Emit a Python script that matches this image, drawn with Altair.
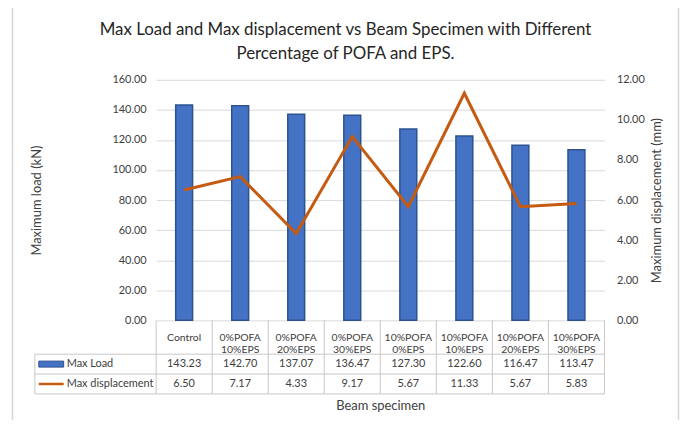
import altair as alt
import pandas as pd

categories = ["Control", "0%POFA 10%EPS", "0%POFA 20%EPS", "0%POFA 30%EPS",
              "10%POFA 0%EPS", "10%POFA 10%EPS", "10%POFA 20%EPS", "10%POFA 30%EPS"]
max_load = [143.23, 142.70, 137.07, 136.47, 127.30, 122.60, 116.47, 113.47]
max_disp = [6.50, 7.17, 4.33, 9.17, 5.67, 11.33, 5.67, 5.83]
series_names = ["Max Load", "Max displacement"]
load_ticks = [0, 20, 40, 60, 80, 100, 120, 140, 160]
disp_ticks = [0, 2, 4, 6, 8, 10, 12]

df = pd.DataFrame({"cat": categories, "load": max_load, "disp": max_disp})
one = pd.DataFrame({"k": [0]})

W, H = 451, 242
FONT = "Lato"
TXT = "#404040"
GRID = "#D9D9D9"
TBL = "#C8C8C8"
BAR = "#4472C4"
BAR_EDGE = "#2F528F"
LINE = "#C55A11"

x_axis = alt.Axis(
    title="Beam specimen", labelExpr="split(datum.label, ' ')", labelAngle=0,
    domain=False, ticks=False, tickSize=0, labelPadding=17, labelBaseline="middle",
    labelFontSize=10.5, labelLineHeight=12, labelOverlap=False, labelColor=TXT,
    labelFont=FONT, titleFont=FONT, titleFontSize=13, titleFontWeight="normal",
    titleColor=TXT, titleY=86, titleBaseline="middle",
)
x_scale = alt.Scale(paddingInner=0, paddingOuter=0)


def xe(**kw):
    return alt.X("cat:N", sort=categories, scale=x_scale, axis=x_axis, **kw)


bars = alt.Chart(df).mark_bar(size=17, color=BAR, stroke=BAR_EDGE, strokeWidth=1.5).encode(
    x=xe(),
    y=alt.Y("load:Q", scale=alt.Scale(domain=[0, 160]), axis=alt.Axis(
        values=load_ticks, format=".2f", grid=True, gridColor=GRID, domain=False,
        ticks=False, labelPadding=10, labelFontSize=11, labelFont=FONT, labelColor=TXT,
        title="Maximum load (kN)", titleX=-120, titleY=121, titleAngle=270,
        titleAlign="center", titleBaseline="middle", titleFont=FONT, titleFontSize=13,
        titleFontWeight="normal", titleColor=TXT)),
)

line = alt.Chart(df).mark_line(color=LINE, strokeWidth=3).encode(
    x=xe(),
    y=alt.Y("disp:Q", scale=alt.Scale(domain=[0, 12]), axis=alt.Axis(
        orient="right", values=disp_ticks, format=".2f", grid=False, domain=False,
        ticks=False, labelPadding=12, labelFontSize=11, labelFont=FONT, labelColor=TXT,
        title="Maximum displacement (mm)", titleX=52, titleY=121, titleAngle=270,
        titleAlign="center", titleBaseline="middle", titleFont=FONT, titleFontSize=13,
        titleFontWeight="normal", titleColor=TXT)),
)

# table grid
col_lines = alt.Chart(df).mark_rule(color=TBL, strokeWidth=1).encode(
    x=xe(bandPosition=0), y=alt.value(242), y2=alt.value(316))
right_line = alt.Chart(one).mark_rule(color=TBL, strokeWidth=1).encode(
    x=alt.value(W), y=alt.value(242), y2=alt.value(316))
left_line = alt.Chart(one).mark_rule(color=TBL, strokeWidth=1).encode(
    x=alt.value(-122), y=alt.value(276), y2=alt.value(316))
h1 = alt.Chart(one).mark_rule(color=TBL, strokeWidth=1).encode(
    x=alt.value(-122), x2=alt.value(W), y=alt.value(276))
h2 = alt.Chart(one).mark_rule(color=TBL, strokeWidth=1).encode(
    x=alt.value(-122), x2=alt.value(W), y=alt.value(296))
h3 = alt.Chart(one).mark_rule(color=TBL, strokeWidth=1).encode(
    x=alt.value(-122), x2=alt.value(W), y=alt.value(316))

# outer frame
FR = "#D6D6D6"
f_top = alt.Chart(one).mark_rule(color=FR, strokeWidth=1.5).encode(
    x=alt.value(-144.5), x2=alt.value(525.5), y=alt.value(-74.5))
f_left = alt.Chart(one).mark_rule(color=FR, strokeWidth=1.5).encode(
    x=alt.value(-144.5), y=alt.value(-74.5), y2=alt.value(360))
f_right = alt.Chart(one).mark_rule(color=FR, strokeWidth=1.5).encode(
    x=alt.value(525.5), y=alt.value(-74.5), y2=alt.value(360))

# legend keys
key_bar = alt.Chart(one).mark_rect(color=BAR, stroke=BAR_EDGE, strokeWidth=1).encode(
    x=alt.value(-118), x2=alt.value(-93), y=alt.value(283), y2=alt.value(289))
key_line = alt.Chart(one).mark_rule(color=LINE, strokeWidth=2.5).encode(
    x=alt.value(-118), x2=alt.value(-93), y=alt.value(306))
leg = pd.DataFrame({"name": series_names})
leg_load = alt.Chart(leg).transform_filter(alt.datum.name == series_names[0]).mark_text(
    align="left", baseline="middle", font=FONT, fontSize=11, color=TXT).encode(
    x=alt.value(-90), y=alt.value(286), text="name:N")
leg_disp = alt.Chart(leg).transform_filter(alt.datum.name == series_names[1]).mark_text(
    align="left", baseline="middle", font=FONT, fontSize=11, color=TXT).encode(
    x=alt.value(-90), y=alt.value(306), text="name:N")

# values
t_load = alt.Chart(df).mark_text(baseline="middle", font=FONT, fontSize=11, color=TXT).encode(
    x=xe(), y=alt.value(286), text=alt.Text("load:Q", format=".2f"))
t_disp = alt.Chart(df).mark_text(baseline="middle", font=FONT, fontSize=11, color=TXT).encode(
    x=xe(), y=alt.value(306), text=alt.Text("disp:Q", format=".2f"))

chart = alt.layer(
    bars, line, col_lines, right_line, left_line, h1, h2, h3,
    f_top, f_left, f_right, key_bar, key_line, leg_load, leg_disp, t_load, t_disp,
).resolve_scale(y="independent").properties(
    width=W, height=H,
    autosize=alt.AutoSizeParams(type="none"),
    padding={"left": 149, "top": 71, "right": 76, "bottom": 99},
    background="white",
    title=alt.TitleParams(
        text=["Max Load and Max displacement vs Beam Specimen with Different",
              "Percentage of POFA and EPS."],
        font=FONT, fontSize=17, fontWeight="normal", color="#262626",
        lineHeight=24, anchor="middle", offset=0, dy=58, dx=-35),
).configure_view(stroke=None)

chart.save("out.html", embed_options={"renderer": "svg", "actions": False})
